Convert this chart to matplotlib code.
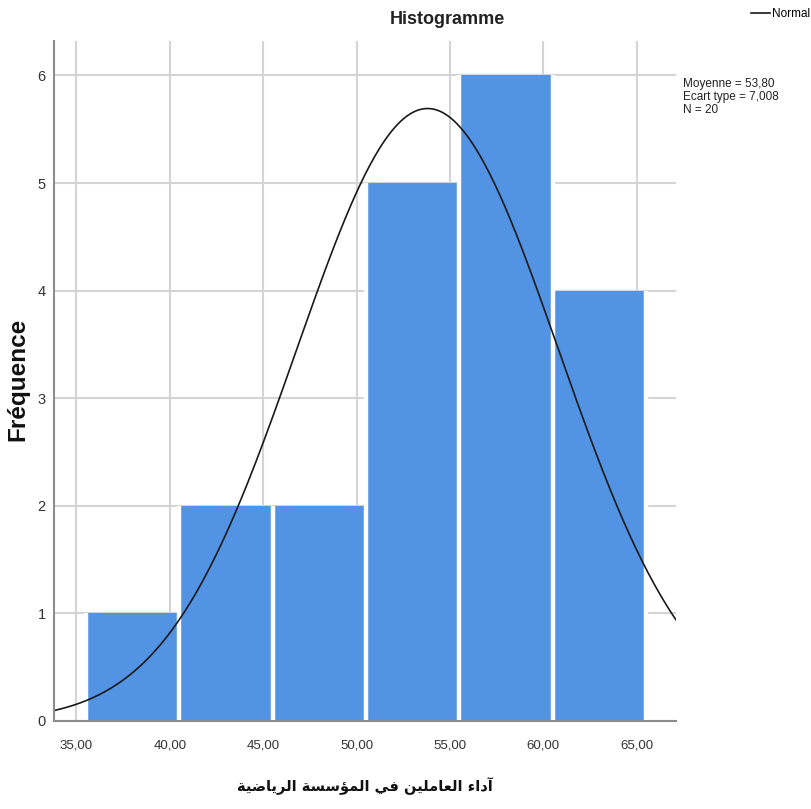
import numpy as np
import matplotlib
matplotlib.use("Agg")
import matplotlib.pyplot as plt

# ---- data ----
bin_edges = [35.5, 40.5, 45.5, 50.5, 55.5, 60.5, 65.5]
frequencies = [1, 2, 2, 5, 6, 4]
mean_value = 53.80
std_value = 7.008
n_obs = 20
x_ticks = [35, 40, 45, 50, 55, 60, 65]
x_tick_labels = ["35,00", "40,00", "45,00", "50,00", "55,00", "60,00", "65,00"]
y_ticks = [0, 1, 2, 3, 4, 5, 6]
x_title = "آداء العاملين في المؤسسة الرياضية"

# ---- minimal Arabic shaping (presentation forms + visual order) ----
FORMS = {
    "\u0621": (0xFE80, None, None, None),
    "\u0622": (0xFE81, 0xFE82, None, None),
    "\u0624": (0xFE85, 0xFE86, None, None),
    "\u0627": (0xFE8D, 0xFE8E, None, None),
    "\u0629": (0xFE93, 0xFE94, None, None),
    "\u062F": (0xFEA9, 0xFEAA, None, None),
    "\u0631": (0xFEAD, 0xFEAE, None, None),
    "\u0633": (0xFEB1, 0xFEB2, 0xFEB3, 0xFEB4),
    "\u0636": (0xFEBD, 0xFEBE, 0xFEBF, 0xFEC0),
    "\u0639": (0xFEC9, 0xFECA, 0xFECB, 0xFECC),
    "\u0641": (0xFED1, 0xFED2, 0xFED3, 0xFED4),
    "\u0644": (0xFEDD, 0xFEDE, 0xFEDF, 0xFEE0),
    "\u0645": (0xFEE1, 0xFEE2, 0xFEE3, 0xFEE4),
    "\u0646": (0xFEE5, 0xFEE6, 0xFEE7, 0xFEE8),
    "\u064A": (0xFEF1, 0xFEF2, 0xFEF3, 0xFEF4),
}


def shape_arabic(text):
    out = []
    for i, ch in enumerate(text):
        if ch not in FORMS:
            out.append(ch)
            continue
        iso, fin, ini, med = FORMS[ch]
        prev = text[i - 1] if i > 0 else None
        nxt = text[i + 1] if i + 1 < len(text) else None
        join_prev = (fin is not None and prev in FORMS
                     and FORMS[prev][2] is not None)
        join_next = (ini is not None and nxt in FORMS
                     and FORMS[nxt][1] is not None)
        if join_prev and join_next:
            code = med
        elif join_prev:
            code = fin
        elif join_next:
            code = ini
        else:
            code = iso
        out.append(chr(code))
    return "".join(out)[::-1]


# ---- figure ----
W, H = 812, 809
fig = plt.figure(figsize=(W / 100, H / 100), dpi=100)
ax = fig.add_axes([54 / W, 1 - 721 / H, (676 - 54) / W, (721 - 41) / H])

narrow = ["Liberation Sans Narrow", "Liberation Sans", "DejaVu Sans"]
bar_color = "#5393e3"
grid_color = "#d4d4d4"
spine_color = "#8c8c8c"

edges = np.array(bin_edges)
widths = np.diff(edges)
ax.bar(edges[:-1], frequencies, width=widths, align="edge",
       color=bar_color, edgecolor="none", zorder=2)
# white gutters along the sides of every bar
counts = np.array(frequencies)
side_heights = np.maximum(np.r_[0, counts], np.r_[counts, 0])
ax.vlines(edges, 0, side_heights, colors="white", linewidth=3.2, zorder=2.5)

# fitted normal curve scaled to counts
bw = widths[0]
xs = np.linspace(33.8, 67.2, 400)
ys = n_obs * bw / (std_value * np.sqrt(2 * np.pi)) * \
    np.exp(-0.5 * ((xs - mean_value) / std_value) ** 2)
ax.plot(xs, ys, color="#1a1a1a", linewidth=1.2, zorder=3, label="Normal")

ax.set_xlim(33.8, 67.1)
ax.set_ylim(0, 6.32)
ax.set_xticks(x_ticks)
ax.set_xticklabels(x_tick_labels, family=narrow, fontsize=9.5, color="#333333")
ax.set_yticks(y_ticks)
ax.set_yticklabels([str(v) for v in y_ticks], family=narrow, fontsize=10.5,
                   color="#333333")
ax.tick_params(axis="x", length=0, pad=13)
ax.tick_params(axis="y", length=0, pad=6)
ax.grid(True, color=grid_color, linewidth=1.5, zorder=0)
ax.set_axisbelow(True)
for side in ("top", "right"):
    ax.spines[side].set_visible(False)
for side in ("left", "bottom"):
    ax.spines[side].set_color(spine_color)
    ax.spines[side].set_linewidth(1.5)
    ax.spines[side].set_zorder(4)

fig.text(447 / W, 1 - 19 / H, "Histogramme", ha="center", va="center",
         family=narrow, fontweight="bold", fontsize=13, color="#222222")

fig.text(18 / W, 1 - 379 / H, "Fréquence", rotation=90, ha="center",
         va="center", family=["Liberation Sans", "DejaVu Sans"],
         fontweight="bold", fontsize=17.5, color="#111111")

fig.text(365 / W, 1 - 786 / H, shape_arabic(x_title), ha="center",
         va="center", family=["DejaVu Sans"], fontweight="bold",
         fontsize=10.5, color="#111111")

stats = "Moyenne = 53,80\nEcart type = 7,008\nN = 20"
fig.text(683 / W, 1 - 78 / H, stats, ha="left", va="top", family=narrow,
         fontsize=8.5, color="#222222", linespacing=1.1)

fig.legend(loc="center left", bbox_to_anchor=(751 / W, 1 - 14 / H),
           bbox_transform=fig.transFigure, frameon=False, borderpad=0,
           borderaxespad=0, handlelength=1.6, handletextpad=0.15,
           prop={"family": narrow, "size": 8.5})

fig.savefig("out.png", dpi=100)
